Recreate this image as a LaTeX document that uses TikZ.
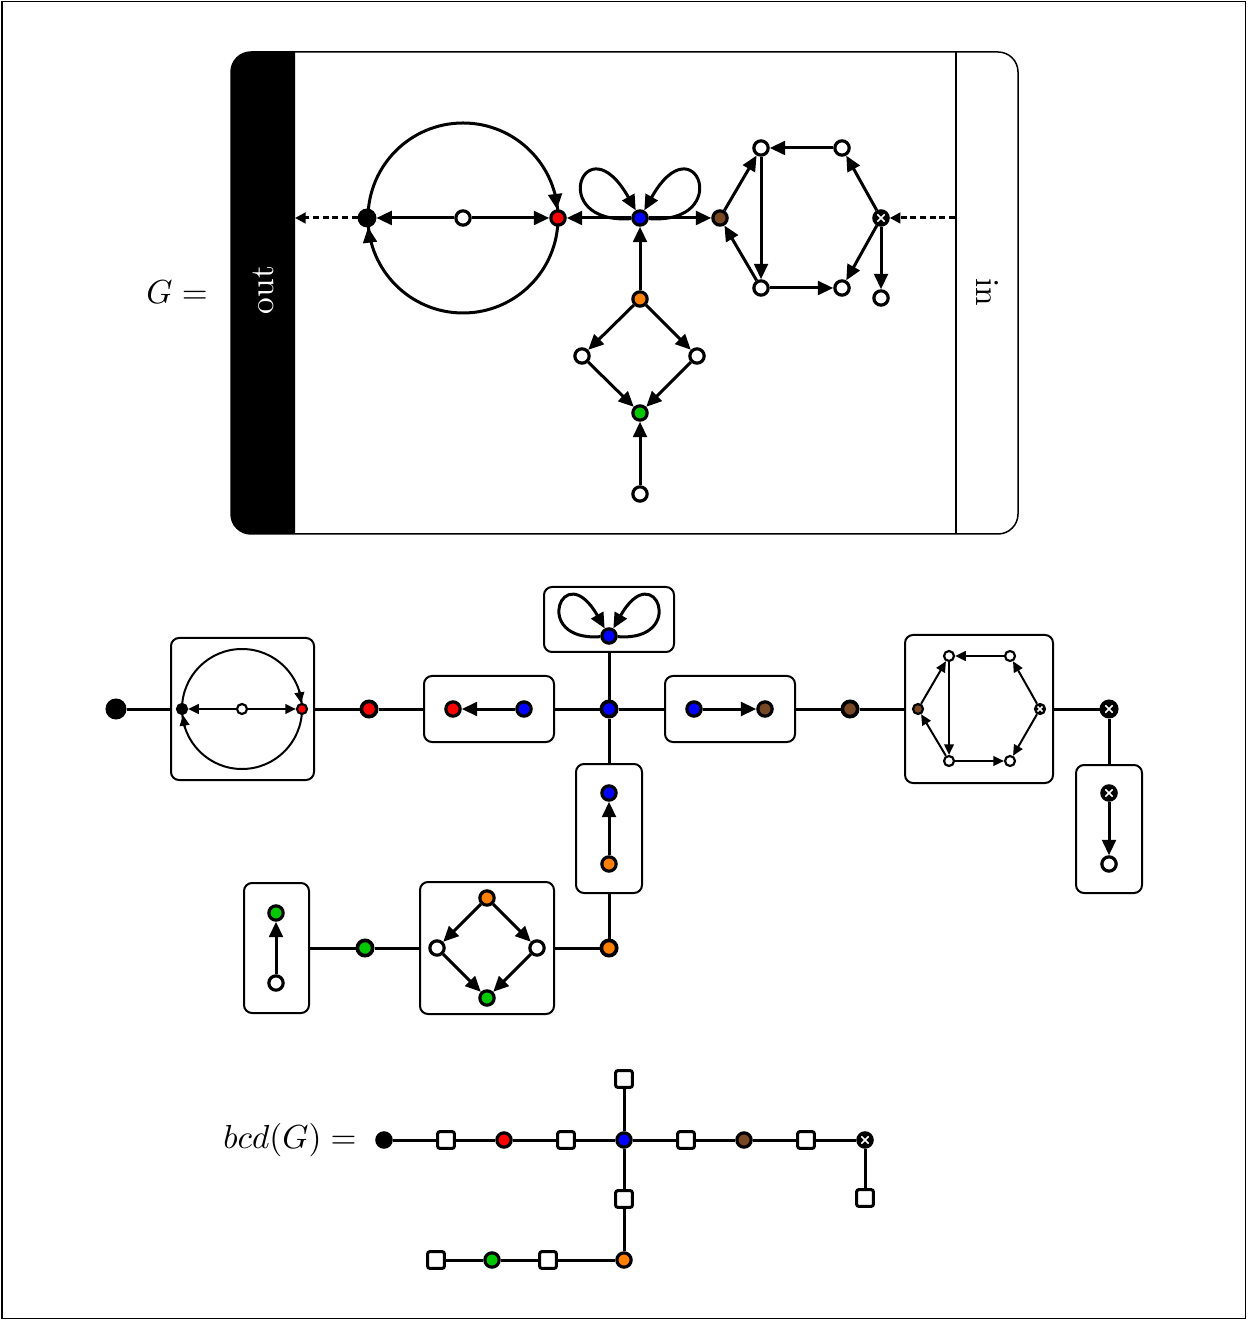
\documentclass[tikz,border=0pt]{standalone}
\usetikzlibrary{arrows.meta,fit}
\definecolor{cred}{RGB}{255,0,0}
\definecolor{cblue}{RGB}{0,0,255}
\definecolor{cgreen}{RGB}{0,200,0}
\definecolor{corange}{RGB}{255,128,0}
\definecolor{cbrown}{RGB}{120,72,36}
\begin{document}
\begin{tikzpicture}[x=0.3pt,y=-0.3pt,
  vtx/.style={circle, draw=black, line width=0.95pt, minimum size=4.3pt, inner sep=0pt, fill=white},
  nw/.style={vtx}, nr/.style={vtx, fill=cred}, nb/.style={vtx, fill=cblue},
  ng/.style={vtx, fill=cgreen}, nor/.style={vtx, fill=corange}, nbr/.style={vtx, fill=cbrown},
  nk/.style={vtx, fill=black},
  nx/.style={vtx, fill=black, path picture={\draw[white, line width=0.5pt]
     ([shift={(-#1,-#1)}]path picture bounding box.center) -- ([shift={(#1,#1)}]path picture bounding box.center)
     ([shift={(-#1,#1)}]path picture bounding box.center) -- ([shift={(#1,-#1)}]path picture bounding box.center);}},
  nx/.default=1.1pt,
  big/.style={minimum size=4.6pt, line width=1.1pt},
  sm/.style={minimum size=3pt, line width=0.65pt},
  sq/.style={rectangle, draw=black, fill=white, rounded corners=0.6pt, minimum size=5pt, inner sep=0pt, line width=0.9pt},
  boxst/.style={draw, rounded corners=2.4pt, line width=0.6pt, inner sep=0pt},
  e/.style={line width=0.9pt, -{Triangle[length=4.6pt,width=4.1pt]}},
  se/.style={line width=0.6pt, -{Triangle[length=3.2pt,width=2.9pt]}},
  de/.style={line width=0.9pt, dash pattern=on 1.8pt off 1.1pt, -{Triangle[length=3.2pt,width=3.2pt]}},
  tl/.style={line width=0.9pt}]
\useasboundingbox (0,0) rectangle (1247,1320);
\draw[line width=0.45pt] (2,1.5) rectangle (1245.5,1318.5);

% ---------------- top: G ----------------
\begin{scope}
\clip (225,40) rectangle (295,545);
\fill[rounded corners=6pt] (231,52) rectangle (1018,534);
\end{scope}
\draw[line width=0.45pt, rounded corners=6pt] (231,52) rectangle (1018,534);
\draw[line width=0.45pt] (956,52) -- (956,534);
\node[rotate=90, text=white] (outlbl) at (263,290) {out};
\node[rotate=-90] (inlbl) at (987,292) {in};
\node (Glbl) at (177,292) {$G=$};

\coordinate (outp) at (295,218);
\coordinate (inp) at (955,218);
\coordinate (c1a) at (555.2,195);
\coordinate (c1b) at (369.8,241);

% big circle (drawn below the vertices)
\draw[line width=0.9pt] (463,218) circle[radius=95];

\node[nk, minimum size=4.7pt] (t0) at (367,218) {};
\node[nw] (tw) at (463,218) {};
\node[nr] (tr) at (558,218) {};
\node[nb] (tb) at (640,218) {};
\node[nbr] (tbr) at (720,218) {};
\node[nw] (hTL) at (761,148) {};
\node[nw] (hTR) at (842,148) {};
\node[nx] (tx) at (881,218) {};
\node[nw] (hBR) at (842,288) {};
\node[nw] (hBL) at (761,288) {};
\node[nw] (tw2) at (881,298) {};
\node[nor] (to) at (640,299) {};
\node[nw] (dL) at (582,356) {};
\node[nw] (dR) at (697,356) {};
\node[ng] (tg) at (640,413) {};
\node[nw] (tw3) at (640,494) {};

\draw[e] (c1a) -- (tr);
\draw[e] (c1b) -- (t0);
\draw[e] (tw) -- (t0);
\draw[e] (tw) -- (tr);
\draw[e] (tb) -- (tr);
\draw[e] (tb) -- (tbr);
\draw[e] (to) -- (tb);
\draw[e] (to) -- (dL);
\draw[e] (to) -- (dR);
\draw[e] (dL) -- (tg);
\draw[e] (dR) -- (tg);
\draw[e] (tw3) -- (tg);
\draw[e] (tbr) -- (hTL);
\draw[e] (hTR) -- (hTL);
\draw[e] (tx) -- (hTR);
\draw[e] (tx) -- (hBR);
\draw[e] (hBL) -- (hBR);
\draw[e] (hBL) -- (tbr);
\draw[e] (hTL) -- (hBL);
\draw[e] (tx) -- (tw2);
\draw[de] (t0) -- (outp);
\draw[de] (inp) -- (tx);
\draw[e] (tb) .. controls (545,225) and (585,120) .. (tb);
\draw[e] (tb) .. controls (735,225) and (695,120) .. (tb);

% ---------------- middle: block tree ----------------
\node[boxst, fit={(171,638) (314,780)}] (B1) {};
\node[boxst, fit={(424,676) (554,742)}] (B2) {};
\node[boxst, fit={(544,587) (674,652)}] (BT) {};
\node[boxst, fit={(665,676) (795,742)}] (B3) {};
\node[boxst, fit={(905,635) (1053,783)}] (B4) {};
\node[boxst, fit={(1076,765) (1142,893)}] (B5) {};
\node[boxst, fit={(576,764) (642,893)}] (B6) {};
\node[boxst, fit={(420,882) (554,1014)}] (B7) {};
\node[boxst, fit={(244,883) (309,1013)}] (B8) {};

\node[nk, big, minimum size=5.2pt] (m0) at (116,709) {};
\node[nr, big] (mr) at (369,709) {};
\node[nb, big] (mb) at (609,709) {};
\node[nbr, big] (mbr) at (850,709) {};
\node[nx, big] (mx) at (1109,709) {};
\node[nor, big] (mo) at (609,948) {};
\node[ng, big] (mg) at (365,948) {};

\draw[tl] (m0) -- (B1);
\draw[tl] (B1) -- (mr);
\draw[tl] (mr) -- (B2);
\draw[tl] (B2) -- (mb);
\draw[tl] (mb) -- (B3);
\draw[tl] (B3) -- (mbr);
\draw[tl] (mbr) -- (B4);
\draw[tl] (B4) -- (mx);
\draw[tl] (mx) -- (B5);
\draw[tl] (mb) -- (BT);
\draw[tl] (mb) -- (B6);
\draw[tl] (B6) -- (mo);
\draw[tl] (mo) -- (B7);
\draw[tl] (B7) -- (mg);
\draw[tl] (mg) -- (B8);

% box 1
\draw[line width=0.6pt] (242,709) circle[radius=60];
\coordinate (c2a) at (299.2,691);
\coordinate (c2b) at (184.8,727);
\node[nk, sm] (m1a) at (182,709) {};
\node[nw, sm] (m1w) at (242,709) {};
\node[nr, sm] (m1r) at (302,709) {};
\draw[se] (m1w) -- (m1a);
\draw[se] (m1w) -- (m1r);
\draw[se] (c2a) -- (m1r);
\draw[se] (c2b) -- (m1a);
% box 2
\node[nr] (m2r) at (453,709) {};
\node[nb] (m2b) at (524,709) {};
\draw[e] (m2b) -- (m2r);
% top box
\node[nb] (mtb) at (609,636) {};
\draw[e] (mtb) .. controls (530,642) and (563,555) .. (mtb);
\draw[e] (mtb) .. controls (688,642) and (655,555) .. (mtb);
% box 3
\node[nb] (m3b) at (694,709) {};
\node[nbr] (m3br) at (765,709) {};
\draw[e] (m3b) -- (m3br);
% box 4
\node[nbr, sm] (q0) at (918,709) {};
\node[nw, sm] (qTL) at (949,656) {};
\node[nw, sm] (qTR) at (1010,656) {};
\node[nx=0.8pt, sm] (qx) at (1040,709) {};
\node[nw, sm] (qBR) at (1010,761) {};
\node[nw, sm] (qBL) at (949,761) {};
\draw[se] (q0) -- (qTL);
\draw[se] (qTR) -- (qTL);
\draw[se] (qx) -- (qTR);
\draw[se] (qx) -- (qBR);
\draw[se] (qBL) -- (qBR);
\draw[se] (qBL) -- (q0);
\draw[se] (qTL) -- (qBL);
% box 5
\node[nx] (m5x) at (1109,793) {};
\node[nw] (m5w) at (1109,864) {};
\draw[e] (m5x) -- (m5w);
% box 6
\node[nb] (m6b) at (609,793) {};
\node[nor] (m6o) at (609,864) {};
\draw[e] (m6o) -- (m6b);
% box 7
\node[nor] (m7o) at (487,898) {};
\node[nw] (m7l) at (437,948) {};
\node[nw] (m7r) at (537,948) {};
\node[ng] (m7g) at (487,998) {};
\draw[e] (m7o) -- (m7l);
\draw[e] (m7o) -- (m7r);
\draw[e] (m7l) -- (m7g);
\draw[e] (m7r) -- (m7g);
% box 8
\node[ng] (m8g) at (276,913) {};
\node[nw] (m8w) at (276,983) {};
\draw[e] (m8w) -- (m8g);

% ---------------- bottom: bcd(G) ----------------
\node (bcdlbl) at (290,1140) {$bcd(G)=$};
\node[nk] (b0) at (384,1140) {};
\node[sq] (s1) at (446,1140) {};
\node[nr] (br) at (504,1140) {};
\node[sq] (s2) at (566,1140) {};
\node[nb] (bb) at (624,1140) {};
\node[sq] (s3) at (686,1140) {};
\node[nbr] (bbr) at (744,1140) {};
\node[sq] (s4) at (806,1140) {};
\node[nx] (bx) at (865,1140) {};
\node[sq] (s5) at (624,1079) {};
\node[sq] (s6) at (624,1199) {};
\node[nor] (bo) at (624,1260) {};
\node[sq] (s7) at (548,1260) {};
\node[ng] (bg) at (492,1260) {};
\node[sq] (s8) at (436,1260) {};
\node[sq] (s9) at (865,1198) {};
\draw[tl] (b0) -- (s1) -- (br) -- (s2) -- (bb) -- (s3) -- (bbr) -- (s4) -- (bx);
\draw[tl] (bb) -- (s5);
\draw[tl] (bb) -- (s6) -- (bo) -- (s7) -- (bg) -- (s8);
\draw[tl] (bx) -- (s9);
\end{tikzpicture}
\end{document}
